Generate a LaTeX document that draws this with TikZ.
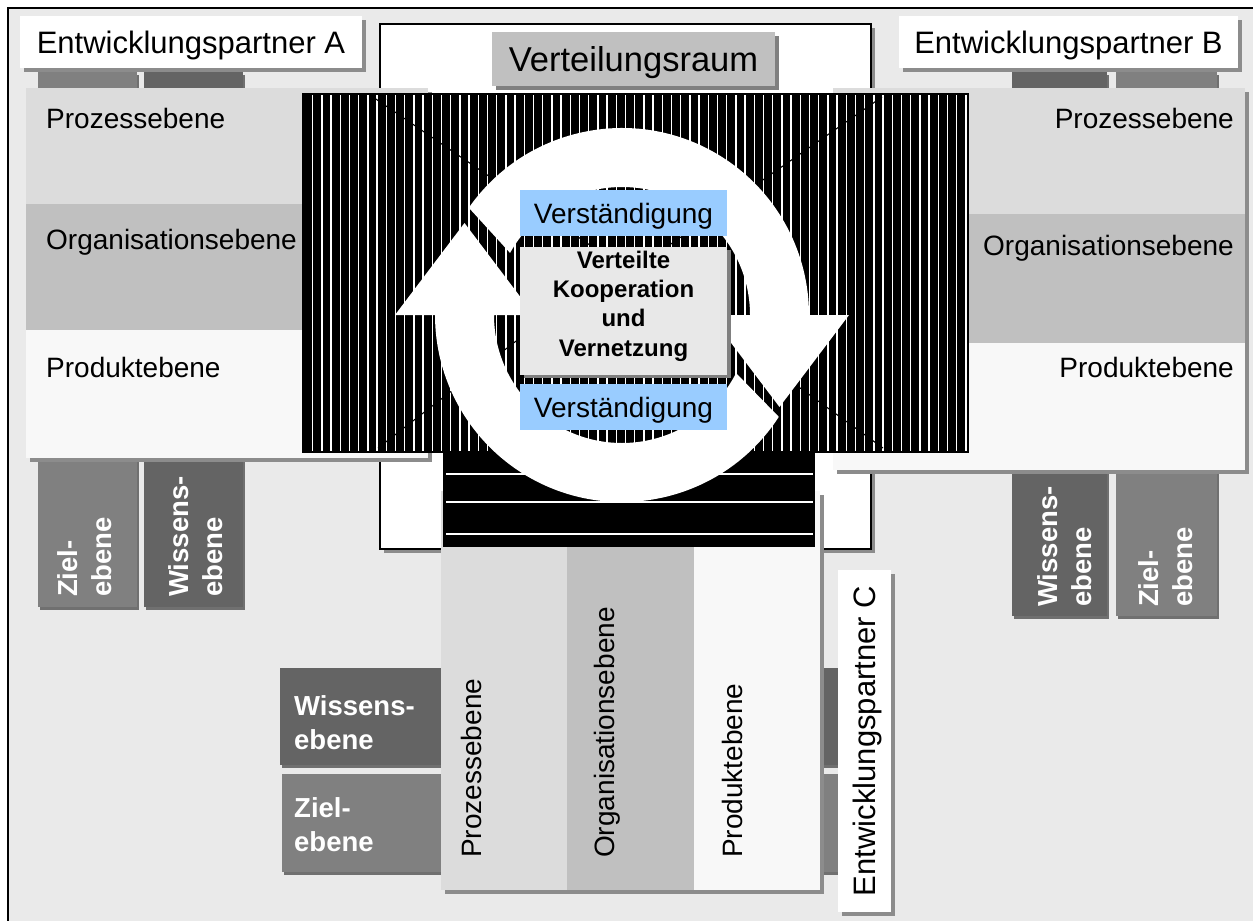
\documentclass[tikz,border=0pt]{standalone}
\usepackage{fontspec}
\setmainfont{Liberation Sans}
\usetikzlibrary{shadows}

\definecolor{bg}{HTML}{EAEAEA}
\definecolor{proz}{HTML}{DCDCDC}
\definecolor{orga}{HTML}{C0C0C0}
\definecolor{prod}{HTML}{F8F8F8}
\definecolor{ziel}{HTML}{808080}
\definecolor{wiss}{HTML}{646464}
\definecolor{shade}{HTML}{8C8C8C}
\definecolor{barshade}{HTML}{707070}
\definecolor{blau}{HTML}{99CCFF}
\definecolor{kern}{HTML}{E8E8E8}

\tikzset{
  block/.style 2 args={rectangle, anchor=north west, inner sep=0pt, outer sep=0pt,
    minimum width=#1pt, minimum height=#2pt},
  shd/.style={drop shadow={shadow xshift=4pt, shadow yshift=-4pt, fill=shade, opacity=1}},
  barshd/.style={drop shadow={shadow xshift=2pt, shadow yshift=-3pt, fill=barshade, opacity=1}},
  partner/.style={font=\fontsize{31}{37}\selectfont, text height=22.2pt, text depth=0pt},
  level/.style={font=\fontsize{28}{34}\selectfont, inner sep=0pt},
  bartext/.style={font=\bfseries\fontsize{27.5}{34}\selectfont, text=white, inner sep=0pt},
  verst/.style={font=\fontsize{28}{34}\selectfont, text height=20pt, text depth=0pt, fill=blau},
}

\begin{document}
\begin{tikzpicture}[x=1pt,y=-1pt]
\useasboundingbox (0,0) rectangle (1253,921);

% page background and frame
\fill[white] (0,0) rectangle (1253,921);
\fill[bg] (8,8) rectangle (1253,921);
\draw[line width=2pt] (1253,8) -- (8,8) -- (8,921);

% distribution space
\node[block={491}{525}, fill=white, draw=black, line width=1.5pt, shd] (raum) at (380,24) {};
\node[block={283}{54}, fill=orga, drop shadow={shadow xshift=4pt, shadow yshift=-4pt, fill=ziel, opacity=1},
      font=\fontsize{34.5}{40}\selectfont, text height=24.7pt, text depth=0pt] (raumlbl) at (492,32) {Verteilungsraum};

% ---------- partner A ----------
\node[block={99}{535}, fill=ziel, barshd] (zielA) at (38,72) {};
\node[block={99}{535}, fill=wiss, barshd] (wissA) at (144,72) {};
\node[bartext, rotate=90, anchor=base west] (zielAt) at (77,597) {\vtop{\hbox{Ziel-}\hbox{ebene}}};
\node[bartext, rotate=90, anchor=base west] (wissAt) at (188,597) {\vtop{\hbox{Wissens-}\hbox{ebene}}};

\node[block={402}{370}, fill=prod, shd] (panA) at (26,88) {};
\node[block={402}{116}, fill=proz] (prozA) at (26,88) {};
\node[block={402}{126}, fill=orga] (orgaA) at (26,204) {};
\node[level, anchor=base west] (prozAt) at (46,128) {Prozessebene};
\node[level, anchor=base west] (orgaAt) at (46,249) {Organisationsebene};
\node[level, anchor=base west] (prodAt) at (46,377) {Produktebene};

\node[block={342}{52}, fill=white, shd, partner] (labA) at (20,16) {Entwicklungspartner A};

% ---------- partner B ----------
\node[block={95}{544}, fill=wiss, barshd] (wissB) at (1012,72) {};
\node[block={101}{544}, fill=ziel, barshd] (zielB) at (1116,72) {};
\node[bartext, rotate=90, anchor=base west] (wissBt) at (1057,607) {\vtop{\hbox{Wissens-}\hbox{ebene}}};
\node[bartext, rotate=90, anchor=base west] (zielBt) at (1158,607) {\vtop{\hbox{Ziel-}\hbox{ebene}}};

\node[block={412}{382}, fill=prod, shd] (panB) at (833,88) {};
\node[block={412}{126}, fill=proz] (prozB) at (833,88) {};
\node[block={412}{129}, fill=orga] (orgaB) at (833,214) {};
\node[level, anchor=base east] (prozBt) at (1234,128) {Prozessebene};
\node[level, anchor=base east] (orgaBt) at (1234,255) {Organisationsebene};
\node[level, anchor=base east] (prodBt) at (1234,377) {Produktebene};

\node[block={339}{52}, fill=white, shd, partner] (labB) at (899,16) {Entwicklungspartner B};

% ---------- partner C ----------
\node[block={558}{97}, fill=wiss, barshd] (wissC) at (280,668) {};
\node[block={556}{98}, fill=ziel, barshd] (zielC) at (282,774) {};
\node[bartext, anchor=base west] (wissCt) at (294,715) {\vtop{\hbox{Wissens-}\hbox{ebene}}};
\node[bartext, anchor=base west] (zielCt) at (294,817) {\vtop{\hbox{Ziel-}\hbox{ebene}}};

\node[block={379}{399}, fill=prod, shd] (panC) at (441,491) {};
\node[block={126}{399}, fill=proz] (prozC) at (441,491) {};
\node[block={127}{399}, fill=orga] (orgaC) at (567,491) {};
\node[level, rotate=90, anchor=base west] (prozCt) at (481,858) {Prozessebene};
\node[level, rotate=90, anchor=base west] (orgaCt) at (614,858) {Organisationsebene};
\node[level, rotate=90, anchor=base west] (prodCt) at (742,858) {Produktebene};

\node[block={53}{342}, fill=white, shd] (labC) at (838,570) {};
\node[partner, rotate=90, inner sep=0pt] (labCt) at (labC.center) {Entwicklungspartner C};

% ---------- striped panels ----------
\node[block={667}{360}, fill=black] (gitterV) at (302,93) {};
\foreach \k in {0,...,71}
  \draw[white, line width=1.4pt] ({312.7+9.2*\k},95) -- ({312.7+9.2*\k},451);

\node[block={372}{94}, fill=black] (gitterH) at (443,453) {};
\foreach \yy in {474,502,534}
  \draw[white, line width=1.5pt] (446,\yy) -- (813,\yy);

% perspective lines towards the middle
\coordinate (ecUL) at (370,95);
\coordinate (ecUR) at (882,97);
\coordinate (ecLL) at (378,448);
\coordinate (ecLR) at (883,448);
\draw[line width=1.1pt] (ecUL) -- (622,267);
\draw[line width=1.1pt] (ecUR) -- (622,278);
\draw[line width=1.1pt] (ecLL) -- (622,259);
\draw[line width=1.1pt] (ecLR) -- (622,259);

% circular arrows
\begin{scope}[shift={(622,315)}, x=1pt, y=1pt]
  \fill[white] (-33:187) arc[start angle=-33, end angle=-180, radius=187]
    -- (-227,0) -- (-157.5,92) -- (-88,0) -- (-128,0)
    arc[start angle=180, end angle=333, radius=128] -- cycle;
  \fill[white] (145:187) arc[start angle=145, end angle=0, radius=187]
    -- (227,0) -- (157.5,-92) -- (88,0) -- (128,0)
    arc[start angle=0, end angle=151, radius=128] -- cycle;
\end{scope}

% centre
\node[block={207}{46}, verst] (verstO) at (520,190) {Verständigung};
\node[block={207}{128}, fill=kern, drop shadow={shadow xshift=4pt, shadow yshift=-3pt, fill=ziel, opacity=1}] (kernbox) at (520,247) {};
\node[font=\bfseries\fontsize{24}{29.3}\selectfont, align=center, inner sep=0pt] (kerntxt) at (623.5,306) {Verteilte\\Kooperation\\und\\Vernetzung};
\node[block={207}{46}, verst] (verstU) at (520,384) {Verständigung};

\end{tikzpicture}
\end{document}
